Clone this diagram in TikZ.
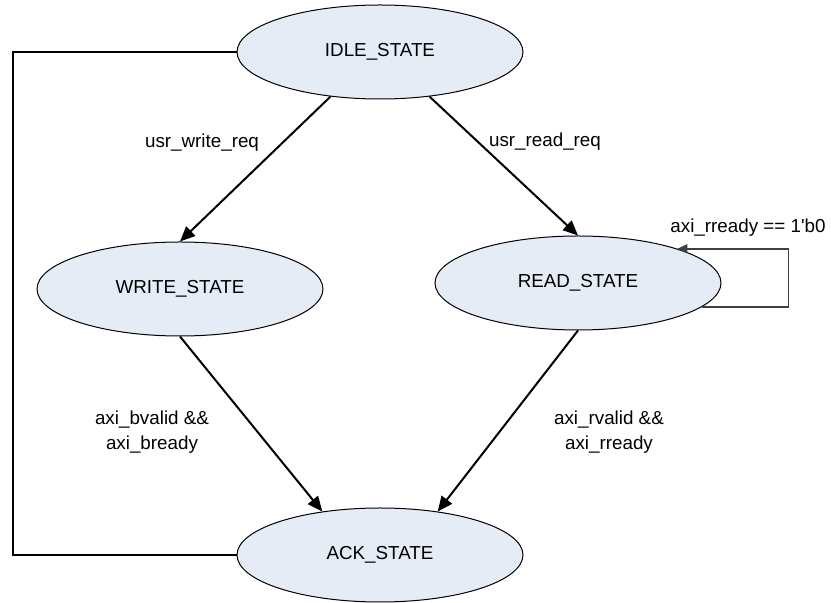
\documentclass[tikz,border=0pt]{standalone}
\usepackage{fontspec}
\setmainfont{Liberation Sans}[Ligatures=TeXOff]
\usetikzlibrary{arrows.meta,shapes.geometric}
\begin{document}
\begin{tikzpicture}[x=0.5pt,y=-0.5pt,
  statenode/.style={ellipse,draw=black,line width=0.5pt,fill=stfill,
    minimum width=143pt,minimum height=47pt,inner sep=0pt,
    font=\fontsize{9.4pt}{12pt}\selectfont},
  trans/.style={line width=1pt,-{Triangle[length=7.5pt,width=6.5pt]}},
  selfloop/.style={line width=0.75pt,draw=loopgray,-{Triangle[length=5pt,width=4.5pt]},loopgray},
  lbl/.style={align=center,inner sep=0pt,font=\fontsize{9.4pt}{12.5pt}\selectfont}]
\definecolor{stfill}{HTML}{E6ECF5}
\definecolor{loopgray}{HTML}{404040}
\useasboundingbox (0,0) rectangle (831,603);
\node[statenode] (idle)  at (380,52)  {IDLE\_STATE};
\node[statenode] (write) at (180,289) {WRITE\_STATE};
\node[statenode] (read)  at (578,283) {READ\_STATE};
\node[statenode] (ack)   at (380,555) {ACK\_STATE};
\draw[trans] (idle.222) -- (write.north);
\draw[trans] (idle.318) -- (read.north);
\draw[trans] (write.south) -- (ack.143);
\draw[trans] (read.south) -- (ack.37);
\coordinate (lt) at (13,52);
\draw[line width=1pt] (idle.west) -- (lt) |- (ack.west);
\draw[selfloop] (read.-11) -- ++(87,0) |- (read.19);
\node[lbl] (l1) at (202,143) {usr\_write\_req};
\node[lbl] (l2) at (545,142) {usr\_read\_req};
\node[lbl] (l3) at (748,228) {axi\_rready == 1'b0};
\node[lbl] (l4) at (152,432) {axi\_bvalid \&\&\\axi\_bready};
\node[lbl] (l5) at (609,432) {axi\_rvalid \&\&\\axi\_rready};
\end{tikzpicture}
\end{document}
